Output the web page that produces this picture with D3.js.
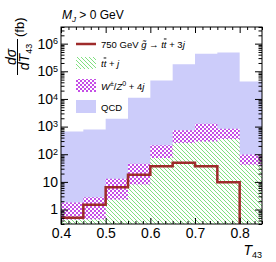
<!DOCTYPE html>
<html>
<head>
<meta charset="UTF-8">
<script src="https://cdn.jsdelivr.net/npm/d3@7"></script>
<style>
  body { margin: 0; background: #fff; }
  svg { font-family: "Liberation Sans", Arial, sans-serif; }
</style>
</head>
<body>
<div id="chart"></div>
<script>
// bins of T43 and the histogram heights (fb)
const binEdges = [0.4, 0.45, 0.5, 0.55, 0.6, 0.65, 0.7, 0.75, 0.8, 0.85];
const qcd    = [670, 790, 1940, 11000, 46000, 180000, 430000, 480000, 43000];
const wz4j   = [1.8, 2.8, 12.9, 45, 210, 730, 1270, 840, 97];
const ttj    = [0.44, 0.45, 2.3, 8, 73, 255, 290, 356, 42];
const signal = [0.51, 1.5, 6.4, 18, 37, 49, 37, 9.7, 0];

const xTicks = [0.4, 0.5, 0.6, 0.7, 0.8];
const yTicks = [1, 10, 100, 1e3, 1e4, 1e5, 1e6];
const yTickLabels = [["1", ""], ["10", ""], ["10", "2"], ["10", "3"], ["10", "4"], ["10", "5"], ["10", "6"]];

const w = 276, h = 262;
const m = {left: 61, right: 262, top: 27, bottom: 224};

const svg = d3.select("#chart").append("svg").attr("width", w).attr("height", h);

const x = d3.scaleLinear().domain([0.4, 0.85]).range([m.left, m.right]);
const y = d3.scaleLog().domain([0.3, 4e6]).range([m.bottom, m.top]);
const yMin = y.domain()[0];

// fill patterns
const defs = svg.append("defs");
const hatch = defs.append("pattern").attr("id", "hatch").attr("patternUnits", "userSpaceOnUse")
    .attr("width", 4).attr("height", 4);
hatch.append("rect").attr("width", 4).attr("height", 4).attr("fill", "#fff");
hatch.append("path").attr("d", "M0,0L4,4M-1,3L1,5M3,-1L5,1")
    .attr("stroke", "#5fd85f").attr("stroke-width", 0.8);
const check = defs.append("pattern").attr("id", "check").attr("patternUnits", "userSpaceOnUse")
    .attr("width", 4).attr("height", 4);
check.append("rect").attr("width", 4).attr("height", 4).attr("fill", "#fff");
check.append("rect").attr("width", 2).attr("height", 2).attr("fill", "#c54ee6");
check.append("rect").attr("x", 2).attr("y", 2).attr("width", 2).attr("height", 2).attr("fill", "#c54ee6");

function steps(vals) {
    const pts = vals.map((v, i) => [binEdges[i], v > 0 ? v : yMin]);
    pts.push([binEdges[binEdges.length - 1], vals[vals.length - 1] > 0 ? vals[vals.length - 1] : yMin]);
    return pts;
}
const area = d3.area().x(d => x(d[0])).y0(m.bottom).y1(d => y(d[1])).curve(d3.curveStepAfter);

svg.append("path").attr("d", area(steps(qcd))).attr("fill", "#ccccfa");
svg.append("path").attr("d", area(steps(wz4j))).attr("fill", "url(#check)");
svg.append("path").attr("d", area(steps(ttj))).attr("fill", "url(#hatch)");

// signal line, drops to the floor where the signal ends
const sigPts = binEdges.slice(0, -1).map((e, i) => [e, signal[i] > 0 ? signal[i] : yMin]);
const line = d3.line().x(d => x(d[0])).y(d => y(d[1])).curve(d3.curveStepAfter);
svg.append("path").attr("d", line(sigPts)).attr("fill", "none")
    .attr("stroke", "#9e2b2b").attr("stroke-width", 2.5);

// axes with inward ticks on all four sides
const xMinor = d3.range(0, 28).map(i => 0.4 + i * 0.1 / 6).filter(v => v <= 0.851 && Math.abs(v * 10 - Math.round(v * 10)) > 1e-6);
const yMinor = [];
for (let e = -1; e <= 6; e++) for (let k = 2; k <= 9; k++) {
    const v = k * Math.pow(10, e);
    if (v >= yMin && v <= 4e6) yMinor.push(v);
}
function drawAxis(axis, tx, ty) {
    const g = svg.append("g").attr("transform", `translate(${tx},${ty})`).call(axis);
    g.select(".domain").remove();
    g.selectAll("line").attr("stroke", "#000");
    return g;
}
drawAxis(d3.axisBottom(x).tickValues(xTicks).tickSize(-6).tickPadding(4.5).tickFormat(d3.format(".1f")), 0, m.bottom)
    .selectAll("text").style("font-size", "14px").attr("fill", "#000");
drawAxis(d3.axisBottom(x).tickValues(xMinor).tickSize(-3).tickFormat(""), 0, m.bottom);
drawAxis(d3.axisTop(x).tickValues(xTicks).tickSize(-6).tickFormat(""), 0, m.top);
drawAxis(d3.axisTop(x).tickValues(xMinor).tickSize(-3).tickFormat(""), 0, m.top);
drawAxis(d3.axisLeft(y).tickValues(yTicks).tickSize(-7).tickFormat(""), m.left, 0);
drawAxis(d3.axisLeft(y).tickValues(yMinor).tickSize(-3.5).tickFormat(""), m.left, 0);
drawAxis(d3.axisRight(y).tickValues(yTicks).tickSize(-7).tickFormat(""), m.right, 0);
drawAxis(d3.axisRight(y).tickValues(yMinor).tickSize(-3.5).tickFormat(""), m.right, 0);

svg.append("rect").attr("x", m.left).attr("y", m.top)
    .attr("width", m.right - m.left).attr("height", m.bottom - m.top)
    .attr("fill", "none").attr("stroke", "#000").attr("stroke-width", 1);

// y tick labels with superscripts
yTicks.forEach((v, i) => {
    const t = svg.append("text").attr("x", 58).attr("y", y(v)).attr("dy", "0.35em")
        .attr("text-anchor", "end").style("font-size", "14px");
    t.append("tspan").text(yTickLabels[i][0]);
    if (yTickLabels[i][1]) t.append("tspan").attr("dy", "-0.45em").style("font-size", "9px").text(yTickLabels[i][1]);
});

// titles
const title = svg.append("text").attr("x", 62).attr("y", 19).style("font-size", "12px");
title.append("tspan").style("font-style", "italic").text("M");
title.append("tspan").attr("dy", 3).style("font-size", "8px").style("font-style", "italic").text("J");
title.append("tspan").attr("dy", -3).text(" > 0 GeV");

const xt = svg.append("text").attr("x", 262).attr("y", 255).attr("text-anchor", "end").style("font-size", "14px");
xt.append("tspan").style("font-style", "italic").text("T");
xt.append("tspan").attr("dy", 3).style("font-size", "9px").text("43");

const yt = svg.append("g").attr("transform", "translate(19,57) rotate(-90)");
yt.append("text").attr("x", 0).attr("y", -3.5).attr("text-anchor", "middle")
    .style("font-size", "14px").style("font-style", "italic").text("dσ");
yt.append("line").attr("x1", -18).attr("x2", 18).attr("y1", -1.5).attr("y2", -1.5)
    .attr("stroke", "#000").attr("stroke-width", 1);
const den = yt.append("text").attr("x", 0).attr("y", 10).attr("text-anchor", "middle")
    .style("font-size", "14px").style("font-style", "italic");
den.append("tspan").text("dT");
den.append("tspan").attr("dy", 3).style("font-size", "9px").style("font-style", "normal").text("43");
yt.append("text").attr("x", 20).attr("y", 5).style("font-size", "13px").text("(fb)");

// legend
const lg = svg.append("g").style("font-size", "9.5px");
lg.append("line").attr("x1", 76).attr("x2", 96).attr("y1", 44).attr("y2", 44)
    .attr("stroke", "#9e2b2b").attr("stroke-width", 2.5);
lg.append("rect").attr("x", 76).attr("y", 57).attr("width", 20).attr("height", 12).attr("fill", "url(#hatch)");
lg.append("rect").attr("x", 76).attr("y", 79).attr("width", 20).attr("height", 13).attr("fill", "url(#check)");
lg.append("rect").attr("x", 76).attr("y", 100).attr("width", 20).attr("height", 13).attr("fill", "#ccccfa");

function ttbar(t) {
    t.append("tspan").style("font-style", "italic").text("t");
    t.append("tspan").style("font-style", "italic").style("text-decoration", "overline").text("t");
}
const l1 = lg.append("text").attr("x", 101).attr("y", 47.5);
l1.append("tspan").text("750 GeV ");
l1.append("tspan").style("font-style", "italic").text("g\u0303");
l1.append("tspan").text(" \u2192 ");
ttbar(l1);
l1.append("tspan").text(" + 3");
l1.append("tspan").style("font-style", "italic").text("j");

const l2 = lg.append("text").attr("x", 101).attr("y", 66.5);
ttbar(l2);
l2.append("tspan").text(" + ");
l2.append("tspan").style("font-style", "italic").text("j");

const l3 = lg.append("text").attr("x", 101).attr("y", 89.5);
l3.append("tspan").style("font-style", "italic").text("W");
l3.append("tspan").attr("dy", -4).style("font-size", "7px").text("\u00b1");
l3.append("tspan").attr("dy", 4).text("/");
l3.append("tspan").style("font-style", "italic").text("Z");
l3.append("tspan").attr("dy", -4).style("font-size", "7px").text("0");
l3.append("tspan").attr("dy", 4).text(" + 4");
l3.append("tspan").style("font-style", "italic").text("j");

lg.append("text").attr("x", 101).attr("y", 110.5).text("QCD");
</script>
</body>
</html>
